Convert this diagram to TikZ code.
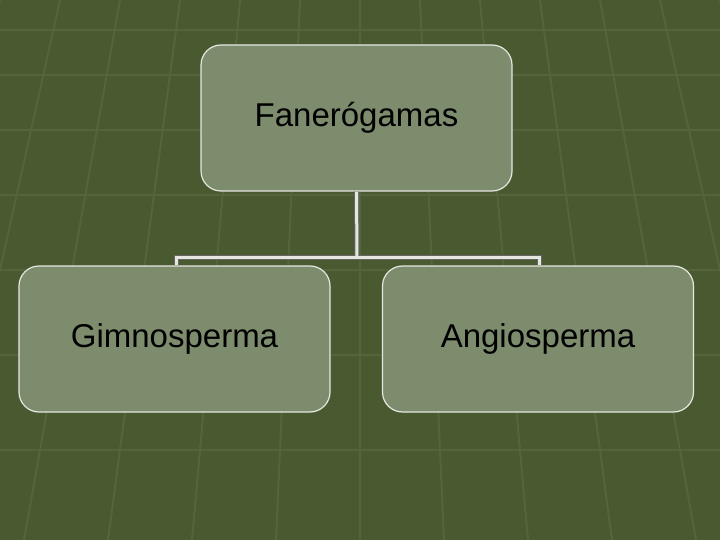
\documentclass[tikz,border=0pt]{standalone}
\usepackage{fontspec}
\setmainfont{Liberation Sans}
\definecolor{bg}{HTML}{4A5A30}
\definecolor{gridc}{HTML}{55653B}
\definecolor{boxc}{HTML}{7E8C6E}
\definecolor{edge}{HTML}{E6E6E0}
\begin{document}
\begin{tikzpicture}[x=1pt,y=-1pt,
  box/.style={draw=edge,line width=1.2pt,fill=boxc,rounded corners=20pt,minimum width=311pt,minimum height=146pt,inner sep=0pt,font=\fontsize{33}{40}\selectfont},
  conn/.style={draw=edge,line width=3pt}]
\fill[bg] (0,0) rectangle (720,540);
\useasboundingbox (0,0) rectangle (720,540);
\foreach \y in {30,75,130,195,270,355,450}
  \draw[gridc,line width=2pt] (0,\y) -- (720,\y);
\foreach \x in {0,60,120,180,240,300,360,420,480,540,600,660,720}
  \draw[gridc,line width=2pt] (\x,0) -- ({360+(\x-360)*1.4},540);
\node[box] (top) at (356.5,118) {Fanerógamas};
\node[box] (left) at (174.5,339) {Gimnosperma};
\node[box] (right) at (538,339) {Angiosperma};
\coordinate (j) at (357,257);
\coordinate (jl) at (176,257);
\coordinate (jr) at (539,257);
\draw[black!60,line width=5pt] (top.south) -- (j);
\draw[black!60,line width=5pt] (left.north -| jl) -- (jl) -- (jr) -- (right.north -| jr);
\draw[conn] (top.south) -- (j);
\draw[conn] (left.north -| jl) -- (jl) -- (jr) -- (right.north -| jr);
\end{tikzpicture}
\end{document}
